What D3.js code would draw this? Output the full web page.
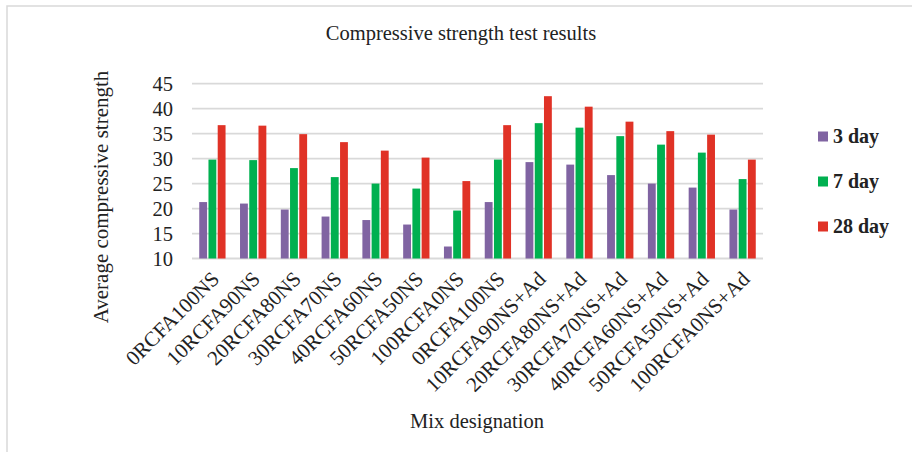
<!DOCTYPE html>
<html lang="en">
<head>
<meta charset="UTF-8">
<title>Compressive strength test results</title>
<script src="https://cdn.jsdelivr.net/npm/d3@7"></script>
<style>
    body { margin: 0; background: #fff; }
    text { font-family: "Liberation Serif", "Times New Roman", serif; fill: #222; }
</style>
</head>
<body>
<div id="chart"></div>
<script>
    // data
    const mixes = ["0RCFA100NS", "10RCFA90NS", "20RCFA80NS", "30RCFA70NS", "40RCFA60NS",
        "50RCFA50NS", "100RCFA0NS", "0RCFA100NS", "10RCFA90NS+Ad", "20RCFA80NS+Ad",
        "30RCFA70NS+Ad", "40RCFA60NS+Ad", "50RCFA50NS+Ad", "100RCFA0NS+Ad"];
    const seriesNames = ["3 day", "7 day", "28 day"];
    const day3 = [21.3, 21.0, 19.8, 18.4, 17.7, 16.8, 12.4, 21.3, 29.3, 28.8, 26.7, 25.0, 24.2, 19.8];
    const day7 = [29.8, 29.7, 28.1, 26.3, 25.0, 24.0, 19.6, 29.8, 37.1, 36.2, 34.5, 32.8, 31.2, 25.9];
    const day28 = [36.7, 36.6, 34.9, 33.3, 31.6, 30.2, 25.5, 36.7, 42.5, 40.4, 37.4, 35.5, 34.8, 29.8];
    const yTicks = [10, 15, 20, 25, 30, 35, 40, 45];
    const colors = ["#8064a2", "#00b050", "#e03226"];

    const values = [day3, day7, day28];
    const rows = mixes.map((m, i) => ({ i: i, mix: m, vals: values.map(v => v[i]) }));

    const W = 912, H = 452;
    const svg = d3.select("#chart").append("svg")
        .attr("width", W).attr("height", H);

    // outer frame
    svg.append("rect")
        .attr("x", 7).attr("y", 6)
        .attr("width", W).attr("height", H)
        .attr("fill", "none")
        .attr("stroke", "#d9d9d9")
        .attr("stroke-width", 1.5);

    var x0 = d3.scaleBand(d3.range(mixes.length), [192, 763])
        .paddingInner(0.355).paddingOuter(0.1775);
    var x1 = d3.scaleBand(d3.range(3), [0, x0.bandwidth()]).paddingInner(0.15);
    var y = d3.scaleLinear([10, 45], [258.5, 83.7]);

    // gridlines
    svg.append("g")
        .selectAll("line")
        .data(yTicks)
        .join("line")
        .attr("x1", 192).attr("x2", 763)
        .attr("y1", d => y(d)).attr("y2", d => y(d))
        .attr("stroke", "#d9d9d9")
        .attr("stroke-width", 1.8);

    // y axis labels
    svg.append("g")
        .attr("transform", "translate(173,0)")
        .call(d3.axisLeft(y).tickValues(yTicks).tickSize(0).tickPadding(0))
        .call(g => g.select(".domain").remove())
        .call(g => g.selectAll("text")
            .attr("font-size", 20.5)
            .attr("font-family", "Liberation Serif")
            .attr("fill", "#222")
            .attr("dy", "0.33em"));

    // bars
    svg.append("g")
        .selectAll("g")
        .data(rows)
        .join("g")
        .attr("transform", d => "translate(" + x0(d.i) + ",0)")
        .selectAll("rect")
        .data(d => d.vals)
        .join("rect")
        .attr("x", (d, k) => x1(k))
        .attr("width", x1.bandwidth())
        .attr("y", d => y(d))
        .attr("height", d => y(10) - y(d))
        .attr("fill", (d, k) => colors[k]);

    // x axis labels (rotated)
    svg.append("g")
        .attr("transform", "translate(0,262)")
        .call(d3.axisBottom(x0).tickSize(0).tickFormat(i => mixes[i]))
        .call(g => g.select(".domain").remove())
        .call(g => g.selectAll("text")
            .attr("font-size", 21)
            .attr("font-family", "Liberation Serif")
            .attr("fill", "#222")
            .attr("x", 0)
            .attr("y", 0)
            .attr("dy", "0.35em")
            .attr("text-anchor", "end")
            .attr("transform", "translate(3,13) rotate(-45)"));

    // titles
    svg.append("text")
        .attr("x", 461).attr("y", 40)
        .attr("text-anchor", "middle")
        .attr("font-size", 20.5)
        .text("Compressive strength test results");

    svg.append("text")
        .attr("transform", "translate(108,197) rotate(-90)")
        .attr("text-anchor", "middle")
        .attr("font-size", 21)
        .text("Average compressive strength");

    svg.append("text")
        .attr("x", 477).attr("y", 428)
        .attr("text-anchor", "middle")
        .attr("font-size", 20.5)
        .text("Mix designation");

    // legend
    const legend = svg.append("g")
        .selectAll("g")
        .data(seriesNames)
        .join("g")
        .attr("transform", (d, k) => "translate(818," + (131.5 + k * 45) + ")");
    legend.append("rect")
        .attr("width", 10).attr("height", 10)
        .attr("fill", (d, k) => colors[k]);
    legend.append("text")
        .attr("x", 15).attr("y", 11)
        .attr("font-size", 20)
        .attr("font-weight", "bold")
        .text(d => d);
</script>
</body>
</html>
